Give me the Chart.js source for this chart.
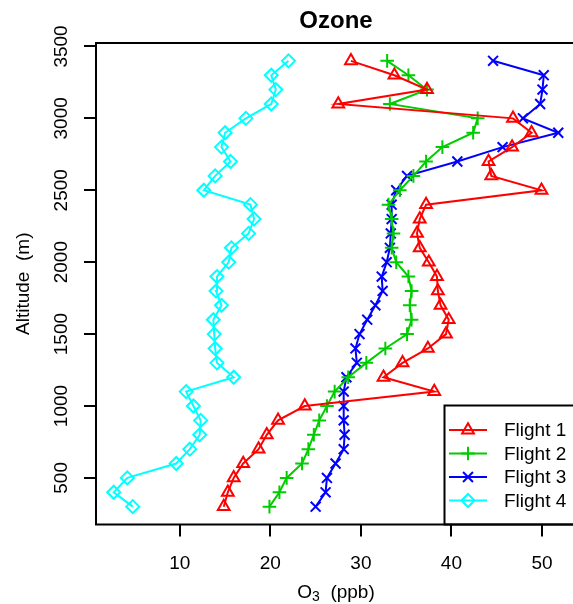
<!DOCTYPE html>
<html>
<head>
<meta charset="utf-8">
<title>Ozone</title>
<script src="https://cdn.jsdelivr.net/npm/chart.js@4.4.1/dist/chart.umd.min.js"></script>
<style>
    html, body { margin: 0; padding: 0; background: #fff; overflow: hidden; }
    #wrap { width: 573px; height: 604px; overflow: hidden; }
</style>
</head>
<body>
<div id="wrap"><canvas id="ozoneChart" width="600" height="604"></canvas></div>
<script>
// Altitude levels (m), shared by all flights
const altitudes = [300, 400, 500, 600, 700, 800, 900, 1000, 1100, 1200, 1300, 1400, 1500, 1600, 1700, 1800,
    1900, 2000, 2100, 2200, 2300, 2400, 2500, 2600, 2700, 2800, 2900, 3000, 3100, 3200, 3300, 3400];

// O3 (ppb) per flight, same order as altitudes
const flight1 = [14.85, 15.3, 15.95, 17.0, 18.7, 19.6, 20.85, 23.8, 38.1, 32.5, 34.6, 37.4, 39.4, 39.7, 38.8, 38.5,
    38.4, 37.5, 36.5, 36.2, 36.5, 37.2, 49.95, 44.4, 44.1, 46.7, 48.85, 46.8, 27.5, 37.3, 33.7, 28.9];
const flight2 = [19.9, 21.0, 21.8, 23.5, 24.2, 24.8, 25.4, 26.25, 27.1, 28.6, 30.6, 32.7, 35.1, 35.6, 35.4, 35.6,
    35.25, 33.9, 33.4, 33.6, 33.4, 33.05, 34.3, 35.8, 37.2, 39.0, 42.4, 42.9, 33.2, 37.3, 35.25, 32.9];
const flight3 = [25.0, 26.1, 26.25, 27.2, 28.1, 28.2, 28.1, 28.1, 28.1, 28.4, 29.55, 29.4, 29.85, 30.7, 31.6, 32.4,
    32.3, 32.85, 33.2, 33.3, 33.4, 33.4, 33.9, 35.1, 40.65, 45.65, 51.8, 47.9, 49.8, 50.06, 50.2, 44.6];
const flight4 = [4.8, 2.7, 4.2, 9.6, 11.1, 12.2, 12.3, 11.5, 10.7, 15.95, 14.1, 13.9, 13.8, 13.7, 14.6, 14.0,
    14.1, 15.4, 15.7, 17.6, 18.2, 17.8, 12.65, 13.9, 15.6, 14.6, 15.0, 17.3, 20.1, 20.6, 20.1, 22.0];

const seriesNames = ['Flight 1', 'Flight 2', 'Flight 3', 'Flight 4'];
const xTicks = [10, 20, 30, 40, 50];
const yTicks = [500, 1000, 1500, 2000, 2500, 3000, 3500];

// R-like styles
const FONT = '"Liberation Sans", Arial, Helvetica, sans-serif';
const flightStyles = [
    { color: '#FF0000', pointStyle: 'triangle', radius: 6.8 },
    { color: '#00CD00', pointStyle: 'cross', radius: 6.8 },
    { color: '#0000FF', pointStyle: 'crossRot', radius: 7 },
    { color: '#00FFFF', pointStyle: 'rectRot', radius: 6.5 }
];

const flights = [flight1, flight2, flight3, flight4];

const datasets = flights.map((values, i) => ({
    label: seriesNames[i],
    data: altitudes.map((alt, k) => ({ x: values[k], y: alt })),
    showLine: true,
    borderColor: flightStyles[i].color,
    borderWidth: 2,
    tension: 0,
    pointStyle: flightStyles[i].pointStyle,
    pointRadius: flightStyles[i].radius,
    pointBorderColor: flightStyles[i].color,
    pointBackgroundColor: 'rgba(0,0,0,0)',
    pointBorderWidth: 2,
    clip: false
}));

function drawMarker(ctx, style, x, y) {
    const opts = { pointStyle: style.pointStyle, radius: style.radius, borderWidth: 2, rotation: 0 };
    ctx.save();
    ctx.strokeStyle = style.color;
    ctx.fillStyle = 'rgba(0,0,0,0)';
    ctx.lineWidth = 2;
    Chart.helpers.drawPoint(ctx, opts, x, y);
    ctx.restore();
}

// Title, rotated y labels, axis titles, box and legend
const rDecorations = {
    id: 'rDecorations',
    afterDraw(chart) {
        const ctx = chart.ctx;
        const area = chart.chartArea;
        const yScale = chart.scales.y;
        const midX = (area.left + area.right) / 2;
        const midY = (area.top + area.bottom) / 2;

        ctx.save();
        ctx.strokeStyle = '#000';
        ctx.fillStyle = '#000';
        ctx.lineWidth = 2;
        ctx.strokeRect(area.left, area.top, area.right - area.left, area.bottom - area.top);

        // y tick labels (rotated like R's las=0)
        ctx.font = `19px ${FONT}`;
        ctx.textAlign = 'center';
        ctx.textBaseline = 'alphabetic';
        yTicks.forEach(v => {
            const py = yScale.getPixelForValue(v);
            ctx.save();
            ctx.translate(67, py);
            ctx.rotate(-Math.PI / 2);
            ctx.fillText(String(v), 0, 0);
            ctx.restore();
        });

        // main title
        ctx.font = `bold 24px ${FONT}`;
        ctx.fillText('Ozone', midX, 27.5);

        // y axis title
        ctx.font = `19px ${FONT}`;
        ctx.save();
        ctx.translate(28.5, midY);
        ctx.rotate(-Math.PI / 2);
        ctx.fillText('Altitude  (m)', 0, 0);
        ctx.restore();

        // x axis title with subscript
        ctx.textAlign = 'left';
        const bigFont = `19px ${FONT}`;
        const smallFont = `14px ${FONT}`;
        ctx.font = bigFont;
        const wO = ctx.measureText('O').width;
        const wRest = ctx.measureText('  (ppb)').width;
        ctx.font = smallFont;
        const w3 = ctx.measureText('3').width;
        let tx = midX - (wO + w3 + wRest) / 2;
        const base = 597.5;
        ctx.font = bigFont;
        ctx.fillText('O', tx, base);
        tx += wO;
        ctx.font = smallFont;
        ctx.fillText('3', tx, base + 3.5);
        tx += w3;
        ctx.font = bigFont;
        ctx.fillText('  (ppb)', tx, base);

        // legend box (bottom-right, runs off the right edge)
        const lx = 444.5, ly = 405.5;
        ctx.strokeRect(lx, ly, area.right - lx + 20, area.bottom - ly);
        ctx.font = `19px ${FONT}`;
        ctx.textBaseline = 'middle';
        seriesNames.forEach((name, i) => {
            const st = flightStyles[i];
            const ry = 430 + i * 23.5;
            ctx.save();
            ctx.strokeStyle = st.color;
            ctx.lineWidth = 2;
            ctx.beginPath();
            ctx.moveTo(449, ry);
            ctx.lineTo(487, ry);
            ctx.stroke();
            ctx.restore();
            drawMarker(ctx, st, 468, ry);
            ctx.fillStyle = '#000';
            ctx.fillText(name, 504, ry + 1);
        });
        ctx.restore();
    }
};

const axisGrid = {
    display: true,
    drawOnChartArea: false,
    drawTicks: true,
    tickLength: 12,
    color: '#000',
    lineWidth: 2
};

new Chart(document.getElementById('ozoneChart'), {
    type: 'scatter',
    data: { datasets },
    options: {
        responsive: false,
        animation: false,
        devicePixelRatio: 1,
        layout: { padding: { top: 43, right: 24, left: 0, bottom: 0 } },
        plugins: {
            legend: { display: false },
            tooltip: { enabled: false },
            title: { display: false }
        },
        scales: {
            x: {
                type: 'linear',
                position: 'bottom',
                min: 0.74,
                max: 53.76,
                afterBuildTicks: s => { s.ticks = xTicks.map(v => ({ value: v })); },
                afterFit: s => { s.height = 604 - 524.5; },
                grid: axisGrid,
                border: { display: false },
                ticks: { color: '#000', font: { family: FONT, size: 19 }, padding: 16, maxRotation: 0, autoSkip: false }
            },
            y: {
                type: 'linear',
                position: 'left',
                min: 176,
                max: 3524,
                afterBuildTicks: s => { s.ticks = yTicks.map(v => ({ value: v })); },
                afterFit: s => { s.width = 96; },
                grid: axisGrid,
                border: { display: false },
                ticks: { color: 'rgba(0,0,0,0)', font: { family: FONT, size: 19 }, autoSkip: false }
            }
        }
    },
    plugins: [rDecorations]
});
</script>
</body>
</html>
